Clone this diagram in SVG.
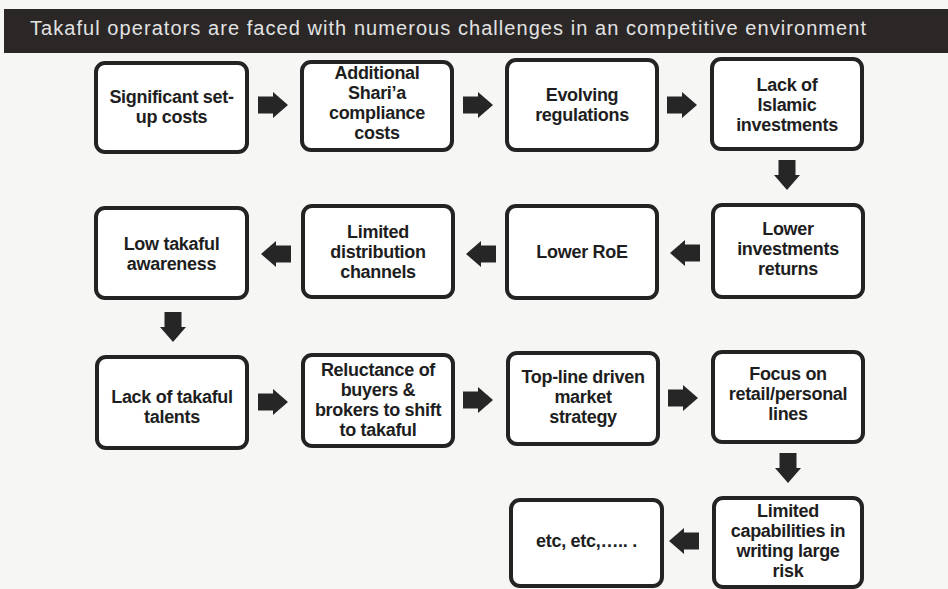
<svg xmlns="http://www.w3.org/2000/svg" width="948" height="589" viewBox="0 0 948 589">
  <style>
    .box { fill: #ffffff; stroke: #232323; stroke-width: 4; }
    .lbl { font-family: "Liberation Sans", Arial, sans-serif; font-weight: bold; font-size: 18px; fill: #1e1e1e; text-anchor: middle; letter-spacing: -0.3px; }
    .title { font-family: "Liberation Sans", Arial, sans-serif; font-size: 20px; fill: #e2e2e2; }
    .arrow { fill: #262626; }
  </style>
  <defs>
    <!-- block arrow pointing right, tip at (30,0) -->
    <path id="blk" d="M0,-8.5 H15 V-13 L30,0 L15,13 V8.5 H0 Z"/>
  </defs>

  <rect width="948" height="589" fill="#f6f6f4"/>

  <!-- header bar -->
  <g id="header">
    <rect x="4" y="9" width="944" height="44" fill="#2b2727"/>
    <text class="title" x="30" y="35" textLength="836" lengthAdjust="spacing">Takaful operators are faced with numerous challenges in an competitive environment</text>
  </g>

  <!-- connectors -->
  <g id="connectors" class="arrow">
    <use href="#blk" transform="translate(258,105)"/>
    <use href="#blk" transform="translate(463,105)"/>
    <use href="#blk" transform="translate(667,105)"/>
    <use href="#blk" transform="translate(787,160) rotate(90)"/>
    <use href="#blk" transform="translate(700,253) rotate(180)"/>
    <use href="#blk" transform="translate(496,254) rotate(180)"/>
    <use href="#blk" transform="translate(291,254) rotate(180)"/>
    <use href="#blk" transform="translate(173,312) rotate(90)"/>
    <use href="#blk" transform="translate(258,402)"/>
    <use href="#blk" transform="translate(463,400)"/>
    <use href="#blk" transform="translate(668,398)"/>
    <use href="#blk" transform="translate(788,453) rotate(90)"/>
    <use href="#blk" transform="translate(699,541) rotate(180)"/>
  </g>

  <!-- row 1 -->
  <g id="n-setup">
    <rect class="box" x="96" y="63" width="151" height="89" rx="9"/>
    <text class="lbl" x="171.5" y="103">Significant set-</text>
    <text class="lbl" x="171.5" y="123">up costs</text>
  </g>
  <g id="n-sharia">
    <rect class="box" x="302" y="62" width="150" height="88" rx="9"/>
    <text class="lbl" x="377" y="79">Additional</text>
    <text class="lbl" x="377" y="99">Shari’a</text>
    <text class="lbl" x="377" y="119">compliance</text>
    <text class="lbl" x="377" y="139">costs</text>
  </g>
  <g id="n-regulations">
    <rect class="box" x="507" y="60" width="150" height="90" rx="9"/>
    <text class="lbl" x="582" y="101">Evolving</text>
    <text class="lbl" x="582" y="121">regulations</text>
  </g>
  <g id="n-islamic">
    <rect class="box" x="712" y="59" width="150" height="90" rx="9"/>
    <text class="lbl" x="787" y="91">Lack of</text>
    <text class="lbl" x="787" y="111">Islamic</text>
    <text class="lbl" x="787" y="131">investments</text>
  </g>

  <!-- row 2 -->
  <g id="n-awareness">
    <rect class="box" x="96" y="208" width="151" height="90" rx="9"/>
    <text class="lbl" x="171.5" y="250">Low takaful</text>
    <text class="lbl" x="171.5" y="270">awareness</text>
  </g>
  <g id="n-distribution">
    <rect class="box" x="303" y="206" width="150" height="91" rx="9"/>
    <text class="lbl" x="378" y="238">Limited</text>
    <text class="lbl" x="378" y="258">distribution</text>
    <text class="lbl" x="378" y="278">channels</text>
  </g>
  <g id="n-roe">
    <rect class="box" x="507" y="206" width="150" height="92" rx="9"/>
    <text class="lbl" x="582" y="258">Lower RoE</text>
  </g>
  <g id="n-returns">
    <rect class="box" x="713" y="205" width="150" height="92" rx="9"/>
    <text class="lbl" x="788" y="235">Lower</text>
    <text class="lbl" x="788" y="255">investments</text>
    <text class="lbl" x="788" y="275">returns</text>
  </g>

  <!-- row 3 -->
  <g id="n-talents">
    <rect class="box" x="97" y="357" width="150" height="91" rx="9"/>
    <text class="lbl" x="172" y="403">Lack of takaful</text>
    <text class="lbl" x="172" y="423">talents</text>
  </g>
  <g id="n-reluctance">
    <rect class="box" x="303" y="355" width="150" height="91" rx="9"/>
    <text class="lbl" x="378" y="376">Reluctance of</text>
    <text class="lbl" x="378" y="396">buyers &amp;</text>
    <text class="lbl" x="378" y="416">brokers to shift</text>
    <text class="lbl" x="378" y="436">to takaful</text>
  </g>
  <g id="n-topline">
    <rect class="box" x="508" y="353" width="150" height="91" rx="9"/>
    <text class="lbl" x="583" y="383">Top-line driven</text>
    <text class="lbl" x="583" y="403">market</text>
    <text class="lbl" x="583" y="423">strategy</text>
  </g>
  <g id="n-retail">
    <rect class="box" x="713" y="352" width="150" height="90" rx="9"/>
    <text class="lbl" x="788" y="380">Focus on</text>
    <text class="lbl" x="788" y="400">retail/personal</text>
    <text class="lbl" x="788" y="420">lines</text>
  </g>

  <!-- row 4 -->
  <g id="n-etc">
    <rect class="box" x="511" y="500" width="151" height="86" rx="9"/>
    <text class="lbl" x="586.5" y="547">etc, etc,….. .</text>
  </g>
  <g id="n-largerisk">
    <rect class="box" x="714" y="498" width="148" height="89" rx="9"/>
    <text class="lbl" x="788" y="517">Limited</text>
    <text class="lbl" x="788" y="537">capabilities in</text>
    <text class="lbl" x="788" y="557">writing large</text>
    <text class="lbl" x="788" y="577">risk</text>
  </g>
</svg>
